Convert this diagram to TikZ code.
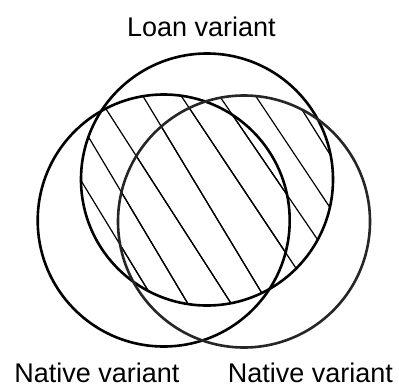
\documentclass[tikz,border=0pt]{standalone}
\usepackage{fontspec}
\setmainfont{Liberation Sans}
\usetikzlibrary{calc}
\begin{document}
\begin{tikzpicture}[x=1pt,y=-1pt,
  ring/.style={draw=black,line width=2.6pt},
  hatch/.style={draw=black,line width=1.2pt},
  lbl/.style={font=\fontsize{27}{30}\selectfont,anchor=base,inner sep=0pt}]
\useasboundingbox (0,0) rectangle (399,389);
\coordinate (A) at (207,179.5);
\coordinate (B) at (163.7,220.5);
\coordinate (C) at (244,221.5);
\def\R{126}
\foreach \clipc in {B,C} {
  \begin{scope}
    \clip (A) circle[radius=\R];
    \clip (\clipc) circle[radius=\R];
    \foreach \ax/\ay/\bx/\by in {81.7/181.7/146.7/288.3, 89.3/138.3/186.7/301.7,
        106.7/110/230/301.7, 143.3/96.7/260/290, 181.7/96.7/295/266.7,
        220/96.7/316.7/238.3, 255/95/328.3/205, 303.3/111.7/328.3/151.7}
      \draw[hatch] ($(\ax,\ay)!-3!(\bx,\by)$) -- ($(\ax,\ay)!4!(\bx,\by)$);
  \end{scope}
}
\draw[ring] (A) circle[radius=\R];
\draw[ring] (B) circle[radius=\R];
\draw[ring,draw=black!85] (C) circle[radius=\R];
\node[lbl] (loan) at (201.5,36.7) {Loan variant};
\node[lbl] (nat1) at (97,382.5) {Native variant};
\node[lbl] (nat2) at (310.5,382.5) {Native variant};
\end{tikzpicture}
\end{document}
